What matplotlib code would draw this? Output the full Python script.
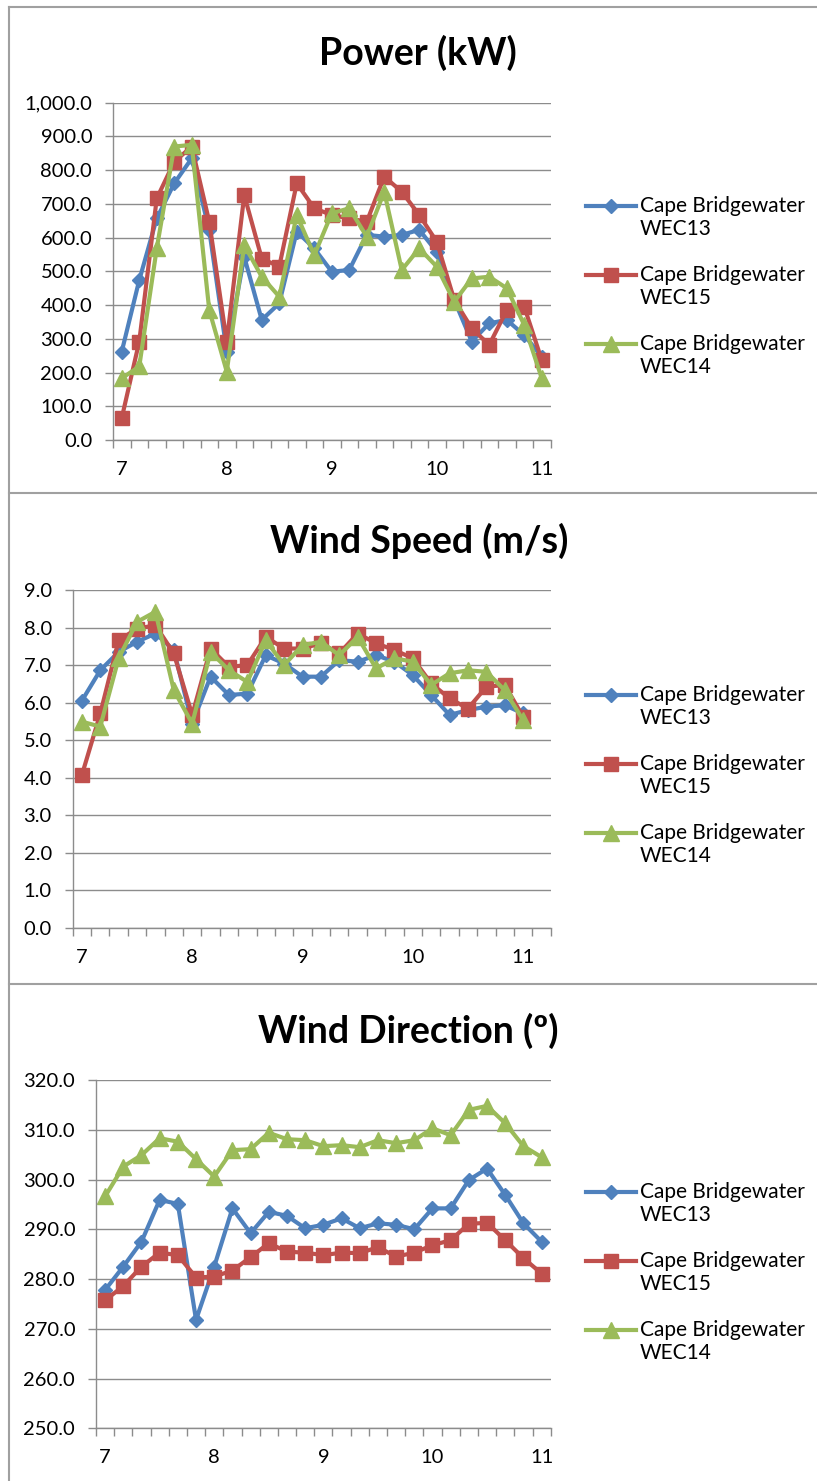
import numpy as np
import matplotlib
matplotlib.use('Agg')
import matplotlib.pyplot as plt
from matplotlib.lines import Line2D
from matplotlib.legend_handler import HandlerLine2D
from matplotlib.ticker import FuncFormatter

plt.rcParams['font.family'] = ['Lato', 'DejaVu Sans']

# x axis: 10-minute steps from 7:00 to 11:00
hour_labels = ['7', '8', '9', '10', '11']
series_names = ['Cape Bridgewater\nWEC13', 'Cape Bridgewater\nWEC15', 'Cape Bridgewater\nWEC14']

# Power (kW)
power_wec13 = [262, 474, 657, 761, 835, 622, 262, 543, 356, 405, 618, 568, 499,
               504, 608, 603, 608, 623, 558, 415, 292, 346, 356, 311, 247]
power_wec15 = [65, 292, 716, 825, 870, 647, 291, 726, 538, 514, 761, 687, 667,
               657, 647, 781, 736, 667, 588, 415, 331, 282, 385, 395, 237]
power_wec14 = [183, 218, 568, 870, 875, 385, 203, 578, 484, 425, 667, 548, 672,
               687, 603, 736, 504, 568, 514, 410, 479, 484, 450, 341, 183]

# Wind speed (m/s)
speed_wec13 = [6.05, 6.86, 7.35, 7.62, 7.84, 7.40, 5.44, 6.69, 6.20, 6.24, 7.26, 7.04, 6.69,
               6.69, 7.13, 7.09, 7.26, 7.09, 6.73, 6.20, 5.67, 5.80, 5.89, 5.93, 5.71]
speed_wec15 = [4.07, 5.71, 7.66, 7.97, 8.06, 7.31, 5.67, 7.44, 6.95, 7.00, 7.75, 7.44, 7.44,
               7.58, 7.31, 7.84, 7.58, 7.40, 7.18, 6.51, 6.11, 5.84, 6.42, 6.47, 5.62]
speed_wec14 = [5.49, 5.36, 7.18, 8.15, 8.42, 6.33, 5.44, 7.35, 6.86, 6.55, 7.66, 7.00, 7.53,
               7.62, 7.26, 7.75, 6.91, 7.18, 7.09, 6.47, 6.78, 6.86, 6.82, 6.33, 5.53]

# Wind direction (deg)
dir_wec13 = [277.8, 282.5, 287.5, 295.9, 295.1, 271.8, 282.5, 294.2, 289.2, 293.5, 292.7, 290.2, 290.9,
             292.2, 290.2, 291.2, 290.9, 290.0, 294.2, 294.2, 299.9, 302.2, 296.9, 291.2, 287.5]
dir_wec15 = [275.7, 278.6, 282.5, 285.3, 284.8, 280.3, 280.5, 281.7, 284.4, 287.2, 285.5, 285.3, 284.8,
             285.3, 285.2, 286.4, 284.5, 285.3, 286.8, 287.8, 291.1, 291.3, 287.8, 284.2, 281.1]
dir_wec14 = [296.6, 302.6, 304.9, 308.3, 307.6, 304.1, 300.6, 305.9, 306.1, 309.4, 308.1, 307.9, 306.7,
             306.9, 306.5, 307.9, 307.3, 307.9, 310.3, 308.9, 314.0, 314.8, 311.3, 306.7, 304.5]

colors = ['#4F81BD', '#C0504D', '#9BBB59']
markers = ['D', 's', '^']
msizes = [7.5, 9.5, 11]
grid_col = '#8C8C8C'
tick_fs = 14.5
leg_fs = 15


class UpperHandler(HandlerLine2D):
    # put the legend key next to the first line of a two-line label
    def create_artists(self, legend, orig_handle, xdescent, ydescent, width, height, fontsize, trans):
        arts = super().create_artists(legend, orig_handle, xdescent, ydescent, width, height, fontsize, trans)
        for a in arts:
            a.set_ydata(np.asarray(a.get_ydata()) + 0.58 * fontsize)
        return arts


W, H = 817, 1481
fig = plt.figure(figsize=(W / 100, H / 100), dpi=100)


def px_axes(x0, y0, x1, y1):
    return fig.add_axes([x0 / W, 1 - y1 / H, (x1 - x0) / W, (y1 - y0) / H])


def make_panel(box, title, title_xy, data, ylim, ystep, ncat, legend_top):
    ax = px_axes(*box)
    x = np.arange(len(data[0]))
    for vals, name, c, m, ms in zip(data, series_names, colors, markers, msizes):
        ax.plot(x, vals, color=c, lw=3, marker=m, ms=ms, mec=c, mfc=c, label=name)
    ax.set_xlim(-0.5, ncat - 0.5)
    ax.set_ylim(*ylim)
    ax.set_yticks(np.arange(ylim[0], ylim[1] + ystep / 2, ystep))
    ax.yaxis.set_major_formatter(FuncFormatter(lambda v, p: f'{v:,.1f}'))
    ax.set_xticks(np.arange(0, len(x), 6))
    ax.set_xticklabels(hour_labels)
    ax.set_xticks(np.arange(-0.5, ncat), minor=True)
    ax.tick_params(axis='x', which='major', length=0, pad=15, labelsize=tick_fs)
    ax.tick_params(axis='x', which='minor', length=6, direction='out', color=grid_col, width=1)
    ax.tick_params(axis='y', length=6, direction='out', color=grid_col, width=1, pad=9, labelsize=tick_fs)
    ax.grid(axis='y', color=grid_col, lw=1)
    ax.set_axisbelow(True)
    for s in ['top', 'right']:
        ax.spines[s].set_visible(False)
    for s in ['left', 'bottom']:
        ax.spines[s].set_color(grid_col)
        ax.spines[s].set_linewidth(1)
    fig.text(title_xy[0] / W, 1 - title_xy[1] / H, title, ha='center', va='center',
             fontsize=27, fontweight='bold')
    ax.legend(loc='upper left', bbox_to_anchor=(586 / W, 1 - legend_top / H),
              bbox_transform=fig.transFigure, frameon=False, fontsize=leg_fs,
              borderpad=0, borderaxespad=0, handlelength=2.4, handletextpad=0.2,
              labelspacing=1.24, handler_map={Line2D: UpperHandler()})
    return ax


make_panel((113, 102.7, 550.5, 440), 'Power (kW)', (418, 53),
           [power_wec13, power_wec15, power_wec14], (0, 1000), 100, 25, 196)
make_panel((72.7, 590, 550.7, 927.7), 'Wind Speed (m/s)', (419, 541),
           [speed_wec13, speed_wec15, speed_wec14], (0, 9), 1, 26, 685)
make_panel((96, 1080, 550.7, 1428.3), 'Wind Direction (º)', (408, 1031),
           [dir_wec13, dir_wec15, dir_wec14], (250, 320), 10, 25, 1182)

# chart frames
for y in [7, 493, 984]:
    fig.add_artist(Line2D([9 / W, 1], [1 - y / H, 1 - y / H], transform=fig.transFigure,
                          color='#A0A0A0', lw=1.5))
fig.add_artist(Line2D([9 / W, 9 / W], [0, 1 - 7 / H], transform=fig.transFigure,
                      color='#A0A0A0', lw=1.5))

fig.savefig('out.png', dpi=100)
